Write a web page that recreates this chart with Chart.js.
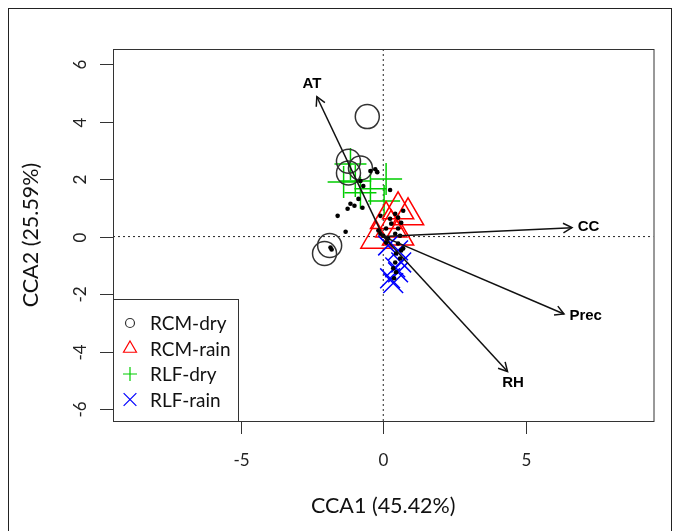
<!DOCTYPE html>
<html>
<head>
<meta charset="utf-8">
<title>CCA biplot</title>
<script src="https://cdn.jsdelivr.net/npm/chart.js@4.4.0/dist/chart.umd.min.js"></script>
<style>
  html, body { margin: 0; padding: 0; background: #ffffff; }
  #wrap { width: 673px; height: 531px; position: relative; }
</style>
</head>
<body>
<div id="wrap"><canvas id="ccaPlot"></canvas></div>
<script>
// axis ticks and ranges
const xTicks = [-5, 0, 5];
const yTicks = [-6, -4, -2, 0, 2, 4, 6];
const xRange = [-9.48, 9.48];
const yRange = [-6.41, 6.52];

// sample scores per group
const rcmDryX = [-0.56, -1.22, -0.80, -1.22, -1.88, -2.06];
const rcmDryY = [4.17, 2.62, 2.38, 2.21, -0.31, -0.59];
const rcmRainX = [0.52, 0.87, 0.10, -0.24, 0.52, 0.28];
const rcmRainY = [0.93, 0.72, 0.59, -0.09, 0.02, 0.30];
const rlfDryX = [-1.15, -1.39, -0.98, 0.10, -0.80, 0.03, -0.45];
const rlfDryY = [2.52, 1.90, 1.93, 2.00, 1.52, 1.24, 1.66];
const rlfRainX = [0.52, 0.63, 0.42, 0.52, 0.24, 0.35, 0.17];
const rlfRainY = [-0.48, -0.90, -1.07, -1.24, -1.45, -1.62, -0.31];

// species scores (small black dots)
const dotX = [-0.45, -0.28, -0.21, -0.80, -0.70, 0.24, -0.87, -1.15, -1.01, -1.25,
              -0.73, -1.60, -1.32, -1.85, -1.81, -0.10, 0.24, 0.42, 0.70, 0.52,
              0.63, 0.28, 0.10, 0.52, -0.17, 0.00, 0.17, 0.42, 0.59, 0.52,
              0.63, 0.45, 0.59, 0.42, 0.35, 0.45, 0.38, 0.10, 0.70, -0.10];
const dotY = [2.28, 2.34, 2.24, 1.93, 1.76, 1.62, 1.31, 1.14, 1.07, 0.97,
              1.00, 0.72, 0.17, -0.38, -0.45, 0.72, 0.62, 0.79, 0.90, 0.66,
              0.48, 0.45, 0.28, 0.28, 0.21, 0.03, -0.07, 0.10, 0.03, -0.24,
              -0.48, -0.59, -0.76, -0.90, -1.10, -1.24, -1.45, -0.21, -0.41, 0.10];

// environmental vectors
const envNames = ['AT', 'CC', 'Prec', 'RH'];
const envX = [-2.33, 6.62, 6.34, 4.36];
const envY = [4.86, 0.31, -2.69, -4.69];
const envLabelX = [-2.5, 7.2, 7.1, 4.55];
const envLabelY = [5.3, 0.33, -2.75, -5.07];

const legendLabels = ['RCM-dry', 'RCM-rain', 'RLF-dry', 'RLF-rain'];
const legendColors = ['#333333', '#ff0000', '#00cd00', '#0000ff'];

function zipPts(xs, ys) { return xs.map((x, i) => ({ x: x, y: ys[i] })); }

function symbol(ctx, kind, r, x, y) {
    ctx.beginPath();
    if (kind === 'circle') {
        ctx.arc(x, y, r, 0, Math.PI * 2);
    } else if (kind === 'triangle') {
        ctx.moveTo(x, y - r);
        ctx.lineTo(x + r * 0.866, y + r / 2);
        ctx.lineTo(x - r * 0.866, y + r / 2);
        ctx.closePath();
    } else if (kind === 'cross') {
        ctx.moveTo(x - r, y); ctx.lineTo(x + r, y);
        ctx.moveTo(x, y - r); ctx.lineTo(x, y + r);
    } else {
        const d = r * 0.707;
        ctx.moveTo(x - d, y - d); ctx.lineTo(x + d, y + d);
        ctx.moveTo(x + d, y - d); ctx.lineTo(x - d, y + d);
    }
    ctx.stroke();
}

const rPlotDecor = {
    id: 'rPlotDecor',
    afterDatasetsDraw(chart) {
        const ctx = chart.ctx, xs = chart.scales.x, ys = chart.scales.y;
        const x0 = xs.getPixelForValue(0), y0 = ys.getPixelForValue(0);
        ctx.save();
        // arrow heads
        ctx.strokeStyle = '#111111'; ctx.lineWidth = 1.5;
        envNames.forEach((n, i) => {
            const tx = xs.getPixelForValue(envX[i]), ty = ys.getPixelForValue(envY[i]);
            const a = Math.atan2(ty - y0, tx - x0), h = 10;
            ctx.beginPath();
            ctx.moveTo(tx - h * Math.cos(a - 0.5), ty - h * Math.sin(a - 0.5));
            ctx.lineTo(tx, ty);
            ctx.lineTo(tx - h * Math.cos(a + 0.5), ty - h * Math.sin(a + 0.5));
            ctx.stroke();
        });
        // arrow labels
        ctx.fillStyle = '#000000';
        ctx.font = 'bold 15px "Liberation Sans", Arial, sans-serif';
        ctx.textAlign = 'center'; ctx.textBaseline = 'middle';
        envNames.forEach((n, i) => {
            ctx.fillText(n, xs.getPixelForValue(envLabelX[i]), ys.getPixelForValue(envLabelY[i]));
        });
        ctx.restore();
    },
    afterDraw(chart) {
        const ctx = chart.ctx, a = chart.chartArea, xs = chart.scales.x, ys = chart.scales.y;
        ctx.save();
        // outer frame of the figure
        ctx.strokeStyle = '#222222'; ctx.lineWidth = 1;
        ctx.strokeRect(8.5, 8.5, 663, 540);
        // plot box
        ctx.strokeStyle = '#333333';
        ctx.strokeRect(a.left + 0.5, a.top + 0.5, a.right - a.left, a.bottom - a.top);
        // ticks
        ctx.fillStyle = '#222222';
        ctx.font = '17px Lato, "Open Sans", sans-serif';
        ctx.textAlign = 'center'; ctx.textBaseline = 'middle';
        xTicks.forEach(v => {
            const px = Math.round(xs.getPixelForValue(v)) + 0.5;
            ctx.beginPath(); ctx.moveTo(px, a.bottom); ctx.lineTo(px, a.bottom + 13); ctx.stroke();
            ctx.fillText(String(v), px, a.bottom + 40);
        });
        yTicks.forEach(v => {
            const py = Math.round(ys.getPixelForValue(v)) + 0.5;
            ctx.beginPath(); ctx.moveTo(a.left, py); ctx.lineTo(a.left - 13, py); ctx.stroke();
            ctx.save();
            ctx.translate(a.left - 32, py); ctx.rotate(-Math.PI / 2);
            ctx.fillText(String(v), 0, 0);
            ctx.restore();
        });
        // axis titles
        ctx.fillStyle = '#111111';
        ctx.font = '21.5px Lato, "Open Sans", sans-serif';
        ctx.fillText('CCA1 (45.42%)', (a.left + a.right) / 2, 506);
        ctx.save();
        ctx.translate(31, (a.top + a.bottom) / 2); ctx.rotate(-Math.PI / 2);
        ctx.fillText('CCA2 (25.59%)', 0, 0);
        ctx.restore();
        // legend box (bottom-left corner)
        const lw = 125, lh = 122, lx = a.left, ly = a.bottom - lh;
        ctx.fillStyle = '#ffffff';
        ctx.fillRect(lx, ly, lw, lh);
        ctx.strokeStyle = '#333333'; ctx.lineWidth = 1;
        ctx.strokeRect(lx + 0.5, ly + 0.5, lw, lh);
        const kinds = ['circle', 'triangle', 'cross', 'crossRot'];
        const sizes = [4.5, 7.5, 7, 9];
        ctx.font = '19px Lato, "Open Sans", sans-serif';
        ctx.textAlign = 'left';
        legendLabels.forEach((lab, i) => {
            const yy = ly + 24 + i * 25.5;
            ctx.strokeStyle = legendColors[i]; ctx.lineWidth = 1.2;
            symbol(ctx, kinds[i], sizes[i], lx + 17, yy);
            ctx.fillStyle = '#111111';
            ctx.fillText(lab, lx + 37, yy + 1);
        });
        ctx.restore();
    }
};

const groupStyle = (color, style, r) => ({
    type: 'scatter', pointStyle: style, pointRadius: r, pointBorderColor: color,
    pointBackgroundColor: 'rgba(0,0,0,0)', pointBorderWidth: 1.5, showLine: false
});

const datasets = [
    { label: 'x0', type: 'line', data: [{ x: 0, y: yRange[0] }, { x: 0, y: yRange[1] }],
      borderColor: '#222222', borderWidth: 1, borderDash: [2, 3], pointRadius: 0, order: 9 },
    { label: 'y0', type: 'line', data: [{ x: xRange[0], y: 0 }, { x: xRange[1], y: 0 }],
      borderColor: '#222222', borderWidth: 1, borderDash: [2, 3], pointRadius: 0, order: 9 },
    Object.assign({ label: legendLabels[0], data: zipPts(rcmDryX, rcmDryY), order: 6 }, groupStyle(legendColors[0], 'circle', 12)),
    Object.assign({ label: legendLabels[1], data: zipPts(rcmRainX, rcmRainY), order: 5 }, groupStyle(legendColors[1], 'triangle', 18)),
    Object.assign({ label: legendLabels[2], data: zipPts(rlfDryX, rlfDryY), order: 7 }, groupStyle(legendColors[2], 'cross', 16)),
    Object.assign({ label: legendLabels[3], data: zipPts(rlfRainX, rlfRainY), order: 4 }, groupStyle(legendColors[3], 'crossRot', 14)),
    { label: 'species', type: 'scatter', data: zipPts(dotX, dotY), pointStyle: 'circle', pointRadius: 2.3,
      pointBackgroundColor: '#000000', pointBorderColor: '#000000', pointBorderWidth: 0, order: 2 }
];
envNames.forEach((n, i) => {
    datasets.push({ label: n, type: 'line', data: [{ x: 0, y: 0 }, { x: envX[i], y: envY[i] }],
        borderColor: '#111111', borderWidth: 1.5, pointRadius: 0, order: 1 });
});

const ctx = document.getElementById('ccaPlot');
try {
    new Chart(ctx, {
        type: 'scatter',
        data: { datasets: datasets },
        options: {
            responsive: true, maintainAspectRatio: false, animation: false, events: [],
            layout: { padding: { left: 113, top: 49, right: 16, bottom: 110 } },
            scales: {
                x: { type: 'linear', display: false, min: xRange[0], max: xRange[1] },
                y: { type: 'linear', display: false, min: yRange[0], max: yRange[1] }
            },
            plugins: { legend: { display: false }, tooltip: { enabled: false }, title: { display: false } }
        },
        plugins: [rPlotDecor]
    });
} catch (error) { console.error('Error initializing CCA plot:', error); }
</script>
</body>
</html>
